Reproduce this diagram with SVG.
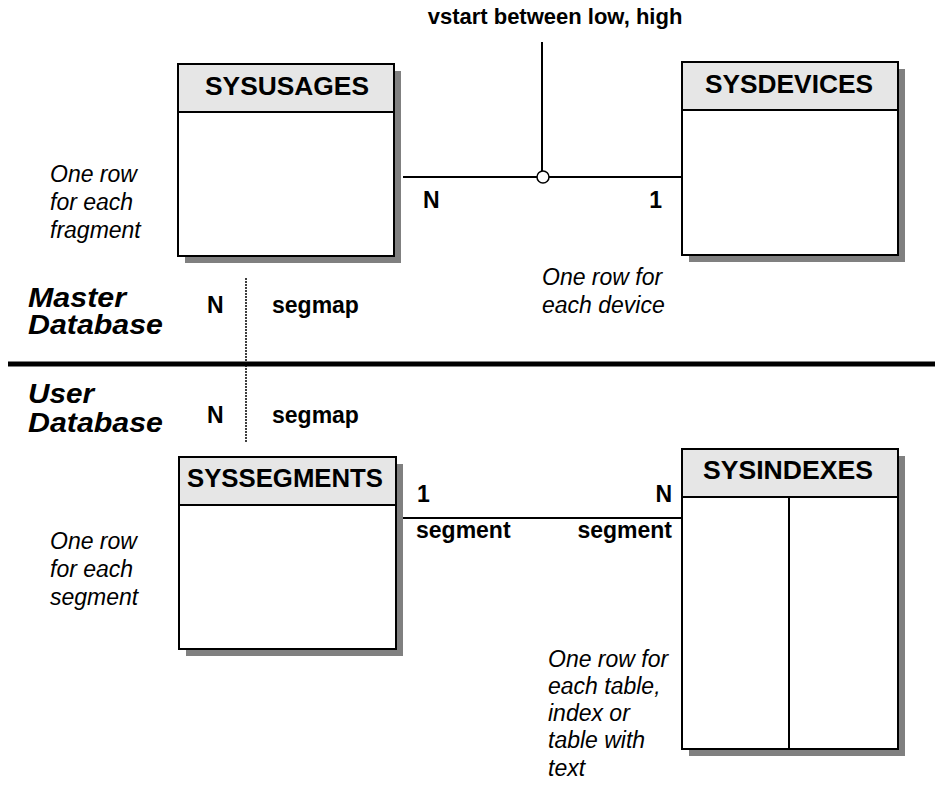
<svg xmlns="http://www.w3.org/2000/svg" width="935" height="785" viewBox="0 0 935 785">
<style>
.shadow{fill:#808080;stroke:none}
.body{fill:#fff;stroke:#000;stroke-width:2}
.head{fill:#e6e6e6;stroke:#000;stroke-width:2}
.title{font-family:"Liberation Sans",Arial,sans-serif;font-weight:bold;font-size:25px;text-anchor:middle;fill:#000}
.lbl{font-family:"Liberation Sans",Arial,sans-serif;font-weight:bold;font-size:23px;fill:#000}
.note{font-family:"Liberation Sans",Arial,sans-serif;font-style:italic;font-size:23px;fill:#000}
.hd{font-family:"Liberation Sans",Arial,sans-serif;font-style:italic;font-weight:bold;font-size:28px;fill:#000}
.ln{stroke:#000;stroke-width:2;fill:none}
</style>
<rect width="935" height="785" fill="#fff"/>

<g id="connectors">
<line class="ln" x1="403" y1="177" x2="682" y2="177"/>
<line class="ln" x1="542" y1="42" x2="542" y2="171"/>
<circle cx="543" cy="177" r="6" fill="#fff" stroke="#000" stroke-width="1.5"/>
<line class="ln" x1="402" y1="518" x2="682" y2="518"/>
<line x1="246" y1="278" x2="246" y2="443" stroke="#000" stroke-width="1.5" stroke-dasharray="2 1"/>
</g>

<line id="divider" x1="8" y1="364" x2="935" y2="364" stroke="#000" stroke-width="5"/>

<g id="sysusages">
<rect class="shadow" x="185" y="71" width="216" height="192"/>
<rect class="body" x="178" y="64" width="216" height="192"/>
<rect class="head" x="178" y="64" width="216" height="48"/>
<text class="title" x="287" y="95" textLength="164" lengthAdjust="spacingAndGlyphs">SYSUSAGES</text>
</g>

<g id="sysdevices">
<rect class="shadow" x="689" y="69" width="216" height="193"/>
<rect class="body" x="682" y="62" width="216" height="193"/>
<rect class="head" x="682" y="62" width="216" height="48"/>
<text class="title" x="789" y="93" textLength="168" lengthAdjust="spacingAndGlyphs">SYSDEVICES</text>
</g>

<g id="syssegments">
<rect class="shadow" x="186" y="464" width="217" height="192"/>
<rect class="body" x="179" y="457" width="217" height="192"/>
<rect class="head" x="179" y="457" width="217" height="48"/>
<text class="title" x="285" y="487" textLength="196" lengthAdjust="spacingAndGlyphs">SYSSEGMENTS</text>
</g>

<g id="sysindexes">
<rect class="shadow" x="689" y="456" width="216" height="300"/>
<rect class="body" x="682" y="449" width="216" height="300"/>
<rect class="head" x="682" y="449" width="216" height="48"/>
<line class="ln" x1="789" y1="497" x2="789" y2="749"/>
<text class="title" x="788" y="479" textLength="170" lengthAdjust="spacingAndGlyphs">SYSINDEXES</text>
</g>

<g id="labels">
<text class="lbl" x="555" y="24" text-anchor="middle" style="font-size:22px">vstart between low, high</text>
<text class="lbl" x="423" y="208">N</text>
<text class="lbl" x="662" y="208" text-anchor="end">1</text>
<text class="lbl" x="207" y="313">N</text>
<text class="lbl" x="272" y="313">segmap</text>
<text class="lbl" x="207" y="423">N</text>
<text class="lbl" x="272" y="423">segmap</text>
<text class="lbl" x="417" y="502">1</text>
<text class="lbl" x="672" y="502" text-anchor="end">N</text>
<text class="lbl" x="416" y="538">segment</text>
<text class="lbl" x="672" y="538" text-anchor="end">segment</text>
</g>

<g id="notes">
<text class="note" x="50" y="182">One row</text>
<text class="note" x="50" y="210">for each</text>
<text class="note" x="50" y="238">fragment</text>
<text class="note" x="542" y="285">One row for</text>
<text class="note" x="542" y="313">each device</text>
<text class="note" x="50" y="549">One row</text>
<text class="note" x="50" y="577">for each</text>
<text class="note" x="50" y="605">segment</text>
<text class="note" x="548" y="667">One row for</text>
<text class="note" x="548" y="694">each table,</text>
<text class="note" x="548" y="721">index or</text>
<text class="note" x="548" y="748">table with</text>
<text class="note" x="548" y="776">text</text>
</g>

<g id="headings">
<text class="hd" x="28" y="307" textLength="98" lengthAdjust="spacingAndGlyphs">Master</text>
<text class="hd" x="28" y="334" textLength="135" lengthAdjust="spacingAndGlyphs">Database</text>
<text class="hd" x="28" y="403" textLength="66" lengthAdjust="spacingAndGlyphs">User</text>
<text class="hd" x="28" y="432" textLength="135" lengthAdjust="spacingAndGlyphs">Database</text>
</g>
</svg>
